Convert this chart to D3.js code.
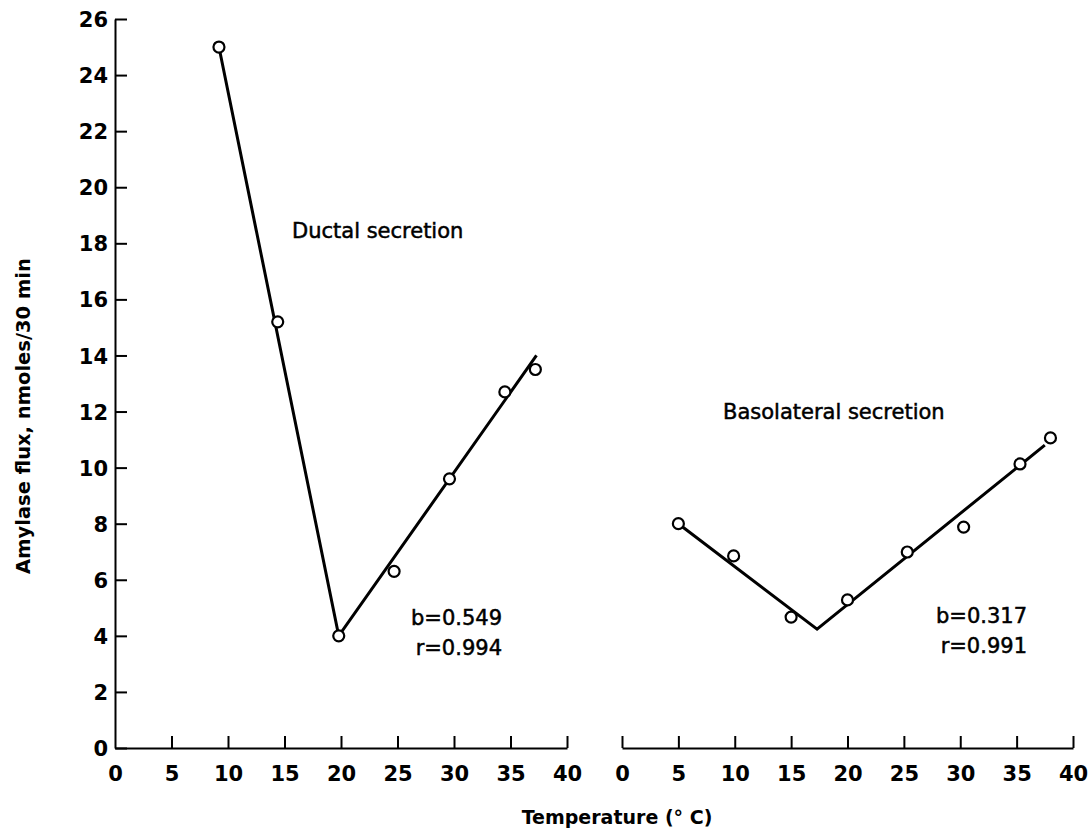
<!DOCTYPE html>
<head>
  <meta charset="utf-8">
  <style>
    body { margin: 0; background: #fff; }
    svg text { font-family: "DejaVu Sans", sans-serif; fill: #000; }
    svg .tick text { font-size: 21px; font-weight: bold; }
    svg .domain { stroke: #000; stroke-width: 2px; }
    svg .tick line { stroke: #000; stroke-width: 2px; }
    svg .fit { stroke: #000; stroke-width: 3px; fill: none; }
    svg .pt { stroke: #000; stroke-width: 2.2px; fill: #fff; }
    svg .note { font-size: 21px; stroke: #000; stroke-width: 0.5px; }
  </style>
</head>
<body>
<script src="https://d3js.org/d3.v7.min.js"></script>
<script>
  // temperature (deg C) and amylase flux
  var ductalTemp = [9.2, 14.4, 19.8, 24.7, 29.6, 34.5, 37.2];
  var ductalFlux = [25.0, 15.2, 4.0, 6.3, 9.6, 12.7, 13.5];
  var ductalFitTemp = [9.2, 19.8, 37.3];
  var ductalFitFlux = [25.0, 4.0, 14.0];

  var basoTemp = [5.0, 9.9, 15.0, 20.0, 25.3, 30.3, 35.3, 38.0];
  var basoFlux = [8.0, 6.85, 4.67, 5.28, 6.99, 7.88, 10.13, 11.06];
  var basoFitTemp = [5.0, 17.3, 37.5];
  var basoFitFlux = [8.0, 4.24, 10.8];

  var xTicks = [0, 5, 10, 15, 20, 25, 30, 35, 40];
  var yTicks = [0, 2, 4, 6, 8, 10, 12, 14, 16, 18, 20, 22, 24, 26];

  var width = 1092, height = 830;

  var svg = d3.select("body")
    .append("svg")
      .attr("width", width)
      .attr("height", height);

  // scales: one y, two x panels
  var yScale = d3.scaleLinear().domain([0, 26]).range([748, 19]);
  var xLeft  = d3.scaleLinear().domain([0, 40]).range([115, 567]);
  var xRight = d3.scaleLinear().domain([0, 40]).range([622, 1073]);

  // y axis, ticks pointing into the plot
  var yAxis = d3.axisRight(yScale)
    .tickValues(yTicks)
    .tickSize(12)
    .tickSizeOuter(0);

  var ya = svg.append("g")
      .attr("transform", "translate(" + xLeft(0) + ",0)")
      .call(yAxis);
  ya.selectAll(".tick text")
      .attr("x", -7)
      .attr("dy", "0.36em")
      .style("text-anchor", "end");

  // x axes, ticks pointing up
  function drawX(scale) {
    var xAxis = d3.axisTop(scale)
      .tickValues(xTicks)
      .tickSize(12)
      .tickSizeOuter(0);
    var g = svg.append("g")
        .attr("transform", "translate(0," + yScale(0) + ")")
        .call(xAxis);
    g.selectAll(".tick text")
        .attr("y", 33)
        .attr("dy", 0);
    return g;
  }
  var xa1 = drawX(xLeft);
  var xa2 = drawX(xRight);
  // left panel: y axis stands where the 0 tick would be
  xa1.selectAll(".tick").filter(function (d) { return d === 0; }).select("line").remove();

  // fitted lines and points
  function drawSeries(scale, tx, fy, ftx, ffy) {
    var fit = ftx.map(function (t, i) { return [t, ffy[i]]; });
    var pts = tx.map(function (t, i) { return [t, fy[i]]; });
    var line = d3.line()
      .x(function (d) { return scale(d[0]); })
      .y(function (d) { return yScale(d[1]); });
    svg.append("path")
        .datum(fit)
        .attr("class", "fit")
        .attr("d", line);
    svg.selectAll(null)
        .data(pts)
      .enter().append("circle")
        .attr("class", "pt")
        .attr("cx", function (d) { return scale(d[0]); })
        .attr("cy", function (d) { return yScale(d[1]); })
        .attr("r", 5.5);
  }
  drawSeries(xLeft, ductalTemp, ductalFlux, ductalFitTemp, ductalFitFlux);
  drawSeries(xRight, basoTemp, basoFlux, basoFitTemp, basoFitFlux);

  // annotations
  svg.append("text").attr("class", "note")
      .attr("x", 292).attr("y", 238)
      .text("Ductal secretion");
  svg.append("text").attr("class", "note")
      .attr("x", 723).attr("y", 419)
      .text("Basolateral secretion");

  svg.append("text").attr("class", "note")
      .attr("x", 502).attr("y", 625).style("text-anchor", "end")
      .text("b=0.549");
  svg.append("text").attr("class", "note")
      .attr("x", 502).attr("y", 655).style("text-anchor", "end")
      .text("r=0.994");
  svg.append("text").attr("class", "note")
      .attr("x", 1027).attr("y", 623).style("text-anchor", "end")
      .text("b=0.317");
  svg.append("text").attr("class", "note")
      .attr("x", 1027).attr("y", 653).style("text-anchor", "end")
      .text("r=0.991");

  // axis titles
  svg.append("text")
      .attr("x", 617).attr("y", 824)
      .style("text-anchor", "middle")
      .style("font-size", "19px")
      .style("font-weight", "bold")
      .text("Temperature (\u00b0 C)");

  svg.append("text")
      .attr("transform", "translate(30,416) rotate(-90)")
      .style("text-anchor", "middle")
      .style("font-size", "19.5px")
      .style("font-weight", "bold")
      .text("Amylase flux, nmoles/30 min");
</script>
</body>
</html>
